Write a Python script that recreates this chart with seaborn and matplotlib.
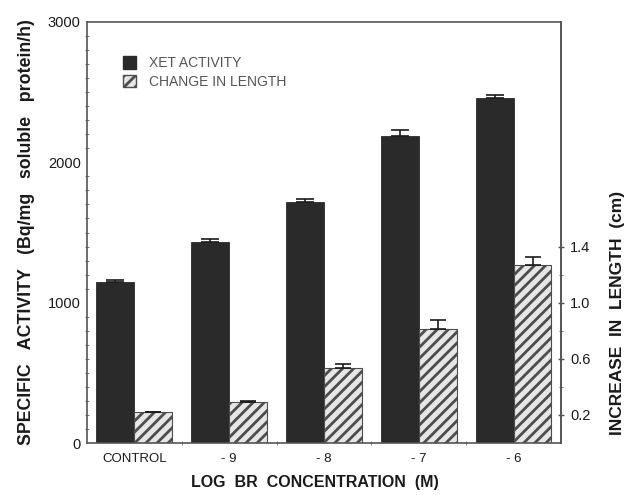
"""XET activity and stem length vs BR concentration"""
import pandas as pd
import matplotlib
matplotlib.use("Agg")
import matplotlib.pyplot as plt
from matplotlib.patches import Patch
from matplotlib.ticker import MultipleLocator, FixedLocator
import seaborn as sns

# data
concentrations = ["CONTROL", "- 9", "- 8", "- 7", "- 6"]
xet_activity = [1150, 1435, 1720, 2185, 2455]      # Bq/mg soluble protein/h
xet_err = [10, 20, 20, 45, 22]
length_increase = [0.22, 0.29, 0.535, 0.81, 1.27]  # cm
length_err = [0.0, 0.01, 0.03, 0.07, 0.055]

series_names = ["XET ACTIVITY", "CHANGE IN LENGTH"]

sns.set_style("white")
plt.rcParams["font.family"] = ["Liberation Sans", "DejaVu Sans"]
plt.rcParams["hatch.linewidth"] = 2.0

# length goes on the same axes, scaled x1000, right axis shows cm
df = pd.DataFrame({
    "conc": concentrations * 2,
    "series": [series_names[0]] * 5 + [series_names[1]] * 5,
    "value": xet_activity + [v * 1000 for v in length_increase],
})

fig = plt.figure(figsize=(6.33, 4.95), dpi=100)
ax = fig.add_axes([0.1374, 0.105, 0.7488, 0.8506])

dark = "#2a2a2a"
light = "#e6e6e6"
hatch_col = "#4d4d4d"

sns.barplot(data=df, x="conc", y="value", hue="series", order=concentrations,
            hue_order=series_names, palette=[dark, light], errorbar=None,
            width=0.8, dodge=True, legend=False, ax=ax)

for bar in ax.containers[0]:
    bar.set_edgecolor(dark)
    bar.set_linewidth(0.6)
for bar in ax.containers[1]:
    bar.set_hatch("///")
    bar.set_edgecolor(hatch_col)
    bar.set_linewidth(0.8)

# error bars, upper side only
x0 = [b.get_x() + b.get_width() / 2 for b in ax.containers[0]]
x1 = [b.get_x() + b.get_width() / 2 for b in ax.containers[1]]
ax.errorbar(x0, xet_activity, yerr=[[0] * 5, xet_err], fmt="none",
            ecolor="#1a1a1a", elinewidth=1.2, capsize=6.5, capthick=1.2)
ax.errorbar(x1, [v * 1000 for v in length_increase],
            yerr=[[0] * 5, [e * 1000 for e in length_err]], fmt="none",
            ecolor="#1a1a1a", elinewidth=1.2, capsize=5.5, capthick=1.2)

ax.set_xlim(-0.5, 4.5)
ax.set_ylim(0, 3000)
ax.yaxis.set_major_locator(MultipleLocator(1000))
ax.yaxis.set_minor_locator(MultipleLocator(100))
ax.xaxis.set_minor_locator(FixedLocator([0.5, 1.5, 2.5, 3.5]))
ax.tick_params(axis="y", which="major", direction="inout", length=5, width=1,
               color="#555555", labelsize=10.5, labelcolor="#1a1a1a", pad=2)
ax.tick_params(axis="y", which="minor", direction="inout", length=3, width=0.8,
               color="#777777", left=True)
ax.tick_params(axis="x", which="major", length=0, labelsize=9.5,
               labelcolor="#1a1a1a", pad=7)
ax.tick_params(axis="x", which="minor", direction="inout", length=3,
               color="#777777", bottom=True)

for side in ["top", "bottom", "left", "right"]:
    ax.spines[side].set_visible(True)
    ax.spines[side].set_color("#555555")
    ax.spines[side].set_linewidth(1.2)

sec = ax.secondary_yaxis("right", functions=(lambda v: v / 1000,
                                             lambda v: v * 1000))
sec.yaxis.set_major_locator(FixedLocator([0.2, 0.6, 1.0, 1.4]))
sec.yaxis.set_minor_locator(FixedLocator([0.4, 0.8, 1.2]))
sec.set_yticklabels(["0.2", "0.6", "1.0", "1.4"])
sec.tick_params(which="major", direction="inout", length=5, width=1,
                color="#555555", labelsize=10.5, labelcolor="#1a1a1a", pad=4)
sec.tick_params(which="minor", direction="inout", length=3, width=0.8,
                color="#777777")
sec.spines["right"].set_color("#555555")
sec.spines["right"].set_linewidth(1.2)

ax.set_xlabel("LOG  BR  CONCENTRATION  (M)", fontsize=11.5,
              fontweight="bold", color="#1a1a1a")
ax.xaxis.set_label_coords(0.48, -0.077)
ax.set_ylabel("SPECIFIC   ACTIVITY   (Bq/mg   soluble   protein/h)",
              fontsize=12.8, fontweight="bold", color="#1a1a1a")
ax.yaxis.set_label_coords(-0.11, 0.502)
sec.set_ylabel("INCREASE  IN  LENGTH  (cm)", fontsize=12.5,
               fontweight="bold", color="#1a1a1a")
sec.yaxis.set_label_coords(1.104, 0.31, transform=ax.transAxes)

handles = [Patch(facecolor=dark, edgecolor=dark),
           Patch(facecolor=light, edgecolor=hatch_col, hatch="///")]
ax.legend(handles, series_names, loc="upper left",
          bbox_to_anchor=(0.05, 0.948), frameon=False, fontsize=10,
          labelcolor="#555555", handlelength=0.95, handleheight=1.0,
          handletextpad=0.9, labelspacing=0.3)

fig.savefig("out.png", dpi=100)
